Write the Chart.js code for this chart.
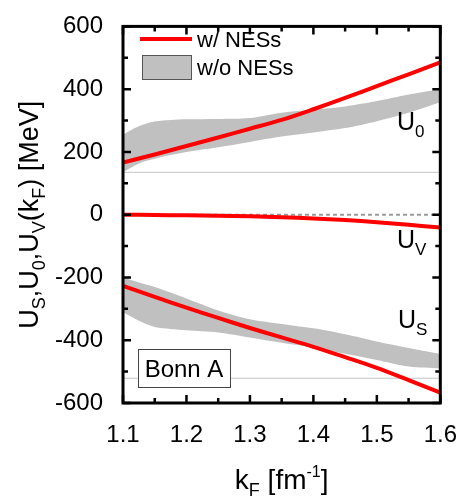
<!DOCTYPE html>
<html lang="en">
<head>
  <meta charset="UTF-8">
  <title>U_S, U_0, U_V vs k_F</title>
  <script src="https://cdn.jsdelivr.net/npm/chart.js"></script>
  <style>
    body { margin: 0; background: #fff; }
  </style>
</head>
<body>
  <canvas id="myChart" width="467" height="500"></canvas>

  <script>
    // axis ticks
    const xTicks = [1.1, 1.2, 1.3, 1.4, 1.5, 1.6];
    const yTicks = [-600, -400, -200, 0, 200, 400, 600];

    // k_F grid for the red curves (w/ NESs)
    const kF = [1.10, 1.15, 1.20, 1.25, 1.30, 1.35, 1.40, 1.45, 1.50, 1.55, 1.60];
    const u0Red = [166, 192, 219, 246, 274, 302, 336, 372, 410, 447, 485];
    const uvRed = [0, -1, -2, -3, -5, -8, -12, -17, -24, -32, -41];
    const usRed = [-227, -262, -296, -329, -361, -391, -421, -454, -488, -527, -567];

    // k_F grid for the grey bands (w/o NESs)
    const kBand = [1.10, 1.125, 1.15, 1.175, 1.20, 1.25, 1.30, 1.35, 1.40, 1.45, 1.50, 1.55, 1.60];
    const u0BandHi = [255, 282, 297, 302, 304, 305, 308, 325, 335, 345, 362, 383, 400];
    const u0BandLo = [135, 163, 178, 190, 200, 215, 232, 249, 262, 276, 298, 325, 358];
    const usBandHi = [-199, -216, -230, -248, -267, -305, -333, -348, -362, -381, -404, -425, -444];
    const usBandLo = [-310, -338, -358, -364, -368, -375, -391, -408, -423, -443, -463, -484, -490];

    // thin horizontal reference lines
    const refLines = [135, -521];

    const FONT = "'Liberation Sans', Arial, sans-serif";
    const RED = '#ff0000';
    const GREY = '#c0c0c0';

    const pts = (xs, ys) => xs.map((x, i) => ({ x: x, y: ys[i] }));
    const flat = (v) => [{ x: 1.1, y: v }, { x: 1.6, y: v }];

    const band = (data, fill) => ({
      data: data,
      fill: fill,
      backgroundColor: GREY,
      borderColor: 'rgba(0,0,0,0)',
      borderWidth: 1,
      pointRadius: 0,
      tension: 0.3,
      order: 5
    });
    const redLine = (data) => ({
      data: data,
      borderColor: RED,
      borderWidth: 4,
      pointRadius: 0,
      tension: 0.3,
      fill: false,
      order: 0
    });

    const datasets = [
      band(pts(kBand, u0BandHi), '+1'),
      band(pts(kBand, u0BandLo), false),
      band(pts(kBand, usBandHi), '+1'),
      band(pts(kBand, usBandLo), false),
      ...refLines.map(v => ({
        data: flat(v), borderColor: '#c4c4c4', borderWidth: 1, pointRadius: 0, fill: false, order: 3
      })),
      { data: flat(0), borderColor: '#9a9a9a', borderWidth: 2, borderDash: [4, 3], pointRadius: 0, fill: false, order: 2 },
      redLine(pts(kF, u0Red)),
      redLine(pts(kF, uvRed)),
      redLine(pts(kF, usRed))
    ];

    // draw a run of text pieces (with sub/superscripts) starting at x
    function richText(ctx, parts, x, y, align) {
      let total = 0;
      parts.forEach(p => {
        ctx.font = p.size + 'px ' + FONT;
        p.w = ctx.measureText(p.t).width;
        total += p.w;
      });
      let cx = align === 'center' ? x - total / 2 : x;
      parts.forEach(p => {
        ctx.font = p.size + 'px ' + FONT;
        ctx.fillText(p.t, cx, y + (p.dy || 0));
        cx += p.w;
      });
    }

    const overlay = {
      id: 'overlay',
      afterDraw(chart) {
        const { ctx, chartArea: a, scales: { x, y } } = chart;
        ctx.save();
        ctx.fillStyle = '#000';
        ctx.textAlign = 'left';
        ctx.textBaseline = 'alphabetic';

        // inward ticks, major and minor, on all four sides
        ctx.strokeStyle = '#000';
        ctx.lineWidth = 2.5;
        ctx.beginPath();
        xTicks.forEach((v, i) => {
          const px = x.getPixelForValue(v);
          ctx.moveTo(px, a.bottom); ctx.lineTo(px, a.bottom - 8);
          ctx.moveTo(px, a.top); ctx.lineTo(px, a.top + 8);
          if (i < xTicks.length - 1) {
            const mx = x.getPixelForValue(v + 0.05);
            ctx.moveTo(mx, a.bottom); ctx.lineTo(mx, a.bottom - 5);
            ctx.moveTo(mx, a.top); ctx.lineTo(mx, a.top + 5);
          }
        });
        yTicks.forEach((v, i) => {
          const py = y.getPixelForValue(v);
          ctx.moveTo(a.left, py); ctx.lineTo(a.left + 8, py);
          ctx.moveTo(a.right, py); ctx.lineTo(a.right - 8, py);
          if (i < yTicks.length - 1) {
            const my = y.getPixelForValue(v + 100);
            ctx.moveTo(a.left, my); ctx.lineTo(a.left + 5, my);
            ctx.moveTo(a.right, my); ctx.lineTo(a.right - 5, my);
          }
        });
        ctx.stroke();

        // frame
        ctx.lineWidth = 3;
        ctx.strokeRect(a.left, a.top, a.right - a.left, a.bottom - a.top);

        // legend
        ctx.strokeStyle = RED;
        ctx.lineWidth = 4;
        ctx.beginPath();
        ctx.moveTo(140, 39); ctx.lineTo(192, 39);
        ctx.stroke();
        ctx.fillStyle = GREY;
        ctx.fillRect(142, 55, 49, 24);
        ctx.strokeStyle = '#555';
        ctx.lineWidth = 1;
        ctx.strokeRect(142.5, 55.5, 49, 24);
        ctx.fillStyle = '#000';
        richText(ctx, [{ t: 'w/ NESs', size: 22 }], 197, 47);
        richText(ctx, [{ t: 'w/o NESs', size: 22 }], 197, 75);

        // Bonn A box
        ctx.fillStyle = '#fff';
        ctx.fillRect(138, 349, 92, 38);
        ctx.strokeStyle = '#444';
        ctx.strokeRect(138.5, 349.5, 92, 38);
        ctx.fillStyle = '#000';
        richText(ctx, [{ t: 'Bonn A', size: 24 }], 184, 377, 'center');

        // curve labels
        richText(ctx, [{ t: 'U', size: 25 }, { t: '0', size: 17, dy: 7 }], 397, 130);
        richText(ctx, [{ t: 'U', size: 25 }, { t: 'V', size: 17, dy: 7 }], 397, 248);
        richText(ctx, [{ t: 'U', size: 25 }, { t: 'S', size: 17, dy: 7 }], 398, 328);

        // x axis title
        richText(ctx, [
          { t: 'k', size: 28 }, { t: 'F', size: 18, dy: 7 },
          { t: ' [fm', size: 28 }, { t: '-1', size: 16, dy: -12 }, { t: ']', size: 28 }
        ], (a.left + a.right) / 2, 489, 'center');

        // y axis title
        ctx.translate(29, (a.top + a.bottom) / 2);
        ctx.rotate(-Math.PI / 2);
        richText(ctx, [
          { t: 'U', size: 27 }, { t: 'S', size: 18, dy: 7 }, { t: ',U', size: 27 }, { t: '0', size: 18, dy: 7 },
          { t: ',U', size: 27 }, { t: 'V', size: 18, dy: 7 }, { t: '(k', size: 27 }, { t: 'F', size: 18, dy: 7 },
          { t: ') [MeV]', size: 27 }
        ], 0, 9, 'center');

        ctx.restore();
      }
    };

    const ctx = document.getElementById('myChart').getContext('2d');

    const myChart = new Chart(ctx, {
      type: 'line',
      data: { datasets: datasets },
      options: {
        responsive: false,
        animation: false,
        devicePixelRatio: 1,
        layout: { padding: { top: 12, right: 24, left: 0, bottom: 0 } },
        plugins: { legend: { display: false }, tooltip: { enabled: false } },
        scales: {
          x: {
            type: 'linear',
            min: 1.1,
            max: 1.6,
            afterFit: (scale) => { scale.height = 97; },
            afterBuildTicks: (scale) => { scale.ticks = xTicks.map(v => ({ value: v })); },
            grid: { display: false },
            border: { display: false },
            ticks: {
              padding: 10,
              maxRotation: 0,
              color: '#000',
              font: { family: FONT, size: 24 },
              callback: (v) => v.toFixed(1)
            }
          },
          y: {
            type: 'linear',
            min: -600,
            max: 600,
            afterFit: (scale) => { scale.width = 123; },
            afterBuildTicks: (scale) => { scale.ticks = yTicks.map(v => ({ value: v })); },
            grid: { display: false },
            border: { display: false },
            ticks: {
              padding: 12,
              color: '#000',
              font: { family: FONT, size: 24 }
            }
          }
        }
      },
      plugins: [overlay]
    });
  </script>
</body>
</html>
